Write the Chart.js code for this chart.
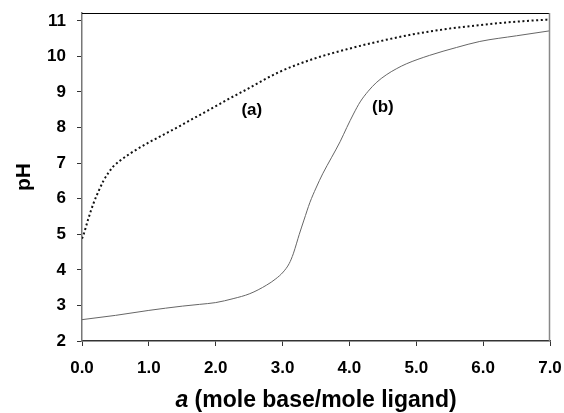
<!DOCTYPE html>
<html>
<head>
<meta charset="utf-8">
<script src="https://cdn.jsdelivr.net/npm/chart.js@4/dist/chart.umd.min.js"></script>
<style>
  html, body { margin: 0; padding: 0; background: #fff; }
  #wrap { width: 564px; height: 413px; }
</style>
</head>
<body>
<div id="wrap"><canvas id="myChart" width="564" height="413"></canvas></div>
<script>
// curve (a) - dotted
const aA = [0, 0.02, 0.09, 0.17, 0.25, 0.32, 0.40, 0.47, 0.57, 0.72, 0.97, 1.22, 1.47, 1.71, 1.97, 2.21, 2.46, 2.71, 2.96, 3.46, 3.96, 4.46, 4.95, 5.45, 5.95, 6.45, 7.0];
const pHa = [4.88, 4.97, 5.41, 5.86, 6.22, 6.50, 6.74, 6.91, 7.07, 7.27, 7.55, 7.80, 8.05, 8.30, 8.57, 8.82, 9.07, 9.33, 9.57, 9.93, 10.20, 10.43, 10.62, 10.77, 10.88, 10.97, 11.04];

// curve (b) - solid
const aB = [0, 0.5, 1.0, 1.5, 1.76, 2.0, 2.26, 2.51, 2.76, 2.90, 3.01, 3.10, 3.16, 3.21, 3.25, 3.32, 3.41, 3.50, 3.60, 3.73, 3.86, 3.96, 4.06, 4.16, 4.28, 4.40, 4.55, 4.70, 4.85, 5.20, 5.60, 5.95, 6.50, 7.0];
const pHb = [2.60, 2.72, 2.86, 2.98, 3.03, 3.08, 3.19, 3.33, 3.57, 3.75, 3.94, 4.18, 4.45, 4.75, 5.00, 5.40, 5.90, 6.30, 6.70, 7.15, 7.60, 8.00, 8.38, 8.72, 9.02, 9.26, 9.48, 9.65, 9.79, 10.03, 10.25, 10.42, 10.58, 10.72];

const xTicks = [0, 1, 2, 3, 4, 5, 6, 7];
const yTicks = [2, 3, 4, 5, 6, 7, 8, 9, 10, 11];
const curveLabels = ['(a)', '(b)'];
const labelAt = [[2.54, 8.49], [4.50, 8.57]];

const FONT = "'Liberation Sans', Arial, sans-serif";

function pts(xs, ys) {
  return xs.map((x, i) => ({ x: x, y: ys[i] }));
}

// frame, titles, curve labels
const extras = {
  id: 'extras',
  afterDraw(chart) {
    const c = chart.ctx;
    const area = chart.chartArea;
    const xs = chart.scales.x, ys = chart.scales.y;
    c.save();
    // top + right border
    c.lineWidth = 1;
    c.strokeStyle = '#000';
    c.beginPath();
    c.moveTo(area.left, area.top + 0.5);
    c.lineTo(area.right, area.top + 0.5);
    c.stroke();
    c.strokeStyle = '#888';
    c.lineWidth = 1.5;
    c.beginPath();
    c.moveTo(area.right - 0.5, area.top);
    c.lineTo(area.right - 0.5, area.bottom);
    c.stroke();

    // curve labels
    c.fillStyle = '#000';
    c.font = 'bold 17px ' + FONT;
    c.textAlign = 'center';
    c.textBaseline = 'middle';
    curveLabels.forEach((t, i) => {
      c.fillText(t, xs.getPixelForValue(labelAt[i][0]), ys.getPixelForValue(labelAt[i][1]));
    });

    // x title
    c.textBaseline = 'alphabetic';
    c.textAlign = 'left';
    const t1 = 'a', t2 = ' (mole base/mole ligand)';
    c.font = 'italic bold 23px ' + FONT;
    const w1 = c.measureText(t1).width;
    c.font = 'bold 23px ' + FONT;
    const w2 = c.measureText(t2).width;
    let x0 = (area.left + area.right) / 2 - (w1 + w2) / 2;
    c.font = 'italic bold 23px ' + FONT;
    c.fillText(t1, x0, 407);
    c.font = 'bold 23px ' + FONT;
    c.fillText(t2, x0 + w1, 407);

    // y title
    c.translate(30, 177);
    c.rotate(-Math.PI / 2);
    c.textAlign = 'center';
    c.font = 'bold 21px ' + FONT;
    c.fillText('pH', 0, 0);
    c.restore();
  }
};

const ctx = document.getElementById('myChart').getContext('2d');
const myChart = new Chart(ctx, {
  type: 'line',
  data: {
    datasets: [
      {
        label: '(a)',
        data: pts(aA, pHa),
        borderColor: '#111',
        borderWidth: 2,
        borderDash: [2, 2.6],
        pointRadius: 0,
        fill: false,
        cubicInterpolationMode: 'monotone'
      },
      {
        label: '(b)',
        data: pts(aB, pHb),
        borderColor: '#666',
        borderWidth: 1,
        pointRadius: 0,
        fill: false,
        cubicInterpolationMode: 'monotone'
      }
    ]
  },
  options: {
    responsive: false,
    animation: false,
    layout: { padding: { top: 13, right: 14, left: 0, bottom: 0 } },
    plugins: {
      legend: { display: false },
      tooltip: { enabled: false }
    },
    scales: {
      x: {
        type: 'linear',
        min: 0,
        max: 7,
        afterBuildTicks: s => { s.ticks = xTicks.map(v => ({ value: v })); },
        afterFit: s => { s.height = 72; s.paddingLeft = 0; s.paddingRight = 0; },
        grid: { drawOnChartArea: false, drawTicks: true, tickLength: 5, color: '#333' },
        border: { display: true, color: '#333', width: 1.5 },
        ticks: {
          color: '#000',
          padding: 12,
          maxRotation: 0,
          font: { family: FONT, size: 17, weight: 'bold' },
          callback: v => Number(v).toFixed(1)
        }
      },
      y: {
        type: 'linear',
        min: 2,
        max: 11.22,
        afterBuildTicks: s => { s.ticks = yTicks.map(v => ({ value: v })); },
        afterFit: s => { s.width = 82; s.paddingTop = 0; s.paddingBottom = 0; },
        grid: { drawOnChartArea: false, drawTicks: true, tickLength: 5, color: '#333' },
        border: { display: true, color: '#777', width: 1.5 },
        ticks: {
          color: '#000',
          padding: 11,
          font: { family: FONT, size: 17, weight: 'bold' }
        }
      }
    }
  },
  plugins: [extras]
});
</script>
</body>
</html>
